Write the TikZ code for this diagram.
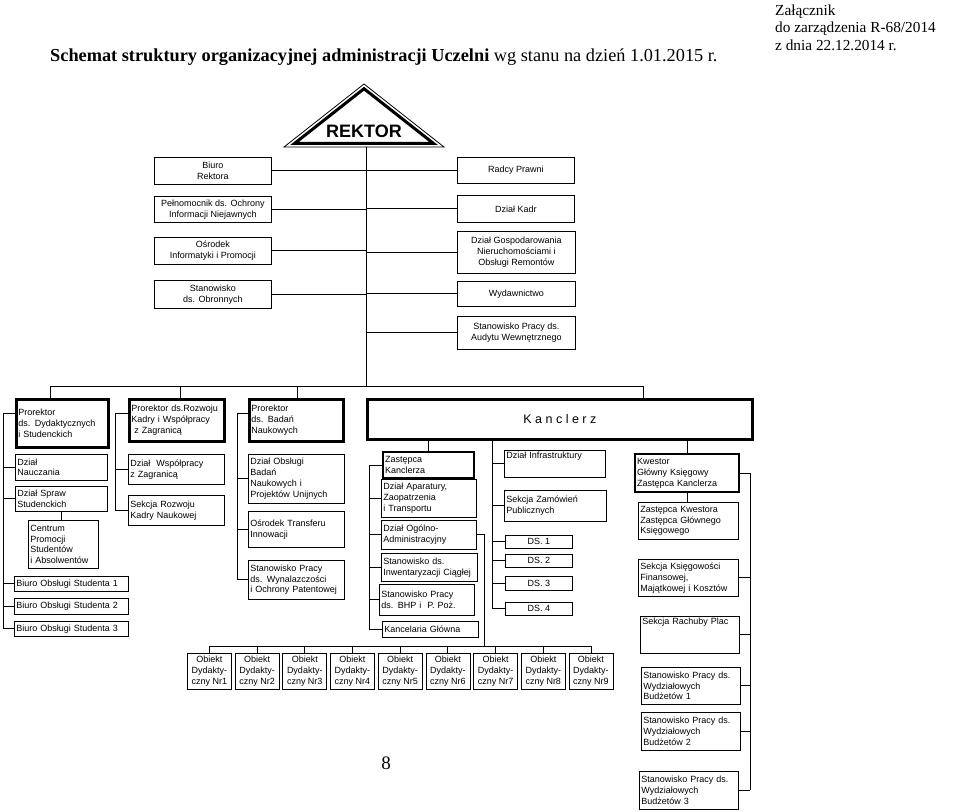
\documentclass[tikz,border=0pt]{standalone}
\usepackage{fontspec}
\setmainfont{Liberation Serif}
\setsansfont{Liberation Sans}
\usetikzlibrary{positioning,calc}

\begin{document}
\begin{tikzpicture}[x=1pt,y=-1pt,
unit/.style={draw, line width=0.7pt, font=\sffamily\fontsize{9}{10.8}\selectfont, inner sep=2pt, anchor=north west},
lbox/.style 2 args={unit, align=left, text width=#1, minimum height=#2},
cbox/.style 2 args={unit, align=center, minimum width=#1, minimum height=#2},
head/.style={line width=2.8pt},
subhead/.style={line width=2.2pt},
link/.style={line width=0.8pt},
]
\fill[white] (0,0) rectangle (960,811);
\useasboundingbox (0,0) rectangle (960,811);

% naglowek
\node[anchor=base west, inner sep=0, font=\fontsize{18.3}{20}\selectfont] (title) at (50,61)
  {\textbf{Schemat struktury organizacyjnej administracji Uczelni} wg stanu na dzień 1.01.2015 r.};
\node[anchor=north west, inner sep=0, align=left, font=\fontsize{15.3}{17.5}\selectfont] (zal) at (775,4.5)
  {Załącznik\\do zarządzenia R-68/2014\\z dnia 22.12.2014 r.};
\node[font=\fontsize{19}{20}\selectfont] (page) at (386,763) {8};

% rektor
\coordinate (tA) at (364,84);
\coordinate (tB) at (284,147);
\coordinate (tC) at (444,147);
\draw[line width=0.8pt] (tA) -- (tB) -- (tC) -- cycle;
\draw[line width=3pt] (364,88.7) -- (294.7,143.3) -- (433.3,143.3) -- cycle;
\node[font=\sffamily\bfseries\fontsize{18}{20}\selectfont] (rektor) at (364,131) {REKTOR};
\coordinate (rekbase) at (366,147);
\coordinate (bus) at (0,386);
\draw[link] (rekbase) -- (rekbase |- bus);

\node[cbox={117pt}{27pt}] (biuro) at (154,157) {Biuro\\Rektora};
\node[cbox={117pt}{26pt}] (pelnom) at (154,196) {Pełnomocnik ds. Ochrony\\Informacji Niejawnych};
\node[cbox={117pt}{27pt}] (osrodek) at (154,237) {Ośrodek\\Informatyki i Promocji};
\node[cbox={117pt}{28pt}] (obron) at (154,280) {Stanowisko\\ds. Obronnych};

\node[cbox={117pt}{26pt}] (radcy) at (457,157) {Radcy Prawni};
\node[cbox={117pt}{27pt}] (kadr) at (457,195) {Dział Kadr};
\node[cbox={118pt}{42pt}] (gosp) at (457,231) {Dział Gospodarowania\\Nieruchomościami i\\Obsługi Remontów};
\node[cbox={118pt}{25pt}] (wyd) at (457,281) {Wydawnictwo};
\node[cbox={118pt}{33pt}] (audyt) at (457,316) {Stanowisko Pracy ds.\\Audytu Wewnętrznego};

\foreach \n in {biuro,pelnom,osrodek,obron}
  \draw[link] (\n.east) -- (\n.east -| rekbase);
\foreach \n in {radcy,kadr,gosp,wyd,audyt}
  \draw[link] (\n.west) -- (\n.west -| rekbase);

% prorektorzy i kanclerz
\node[lbox={88pt}{48pt}, head] (pr1) at (15,398) {Prorektor\\ds. Dydaktycznych\\i Studenckich};
\node[lbox={91pt}{42pt}, head] (pr2) at (128,398) {Prorektor ds.Rozwoju\\Kadry i Współpracy\\\hspace*{3pt}z Zagranicą};
\node[lbox={90pt}{42pt}, head] (pr3) at (248,398) {Prorektor\\ds. Badań\\Naukowych};
\node[cbox={385pt}{40pt}, head, font=\sffamily\fontsize{12.5}{14}\selectfont] (kancl) at (366,398) {K a n c l e r z};

\coordinate (d1) at (50,386);
\coordinate (d2) at (180,386);
\coordinate (d3) at (297,386);
\coordinate (d4) at (643,386);
\draw[link] (d1) -- (d4);
\foreach \p/\d in {pr1/d1,pr2/d2,pr3/d3,kancl/d4}
  \draw[link] (\d) -- (\d |- \p.north);

% pion dydaktyczny
\node[lbox={88pt}{26pt}] (nauczania) at (15,454) {Dział\\Nauczania};
\node[lbox={88pt}{25pt}] (spraw) at (15,486) {Dział Spraw\\Studenckich};
\node[lbox={66pt}{48pt}] (centrum) at (28,520) {Centrum\\Promocji\\Studentów\\i Absolwentów};
\node[lbox={110pt}{15pt}] (bos1) at (14,576) {Biuro Obsługi Studenta 1};
\node[lbox={110pt}{16pt}] (bos2) at (14,598) {Biuro Obsługi Studenta 2};
\node[lbox={110pt}{15pt}] (bos3) at (14,621) {Biuro Obsługi Studenta 3};
\coordinate (c1) at (3,0);
\draw[link] ([yshift=-15pt]pr1.north west) -| (c1 |- bos3.west) -- (bos3.west);
\foreach \n in {nauczania,spraw,bos1,bos2}
  \draw[link] (\n.west) -- (\n.west -| c1);
\draw[link] (spraw.south) -- (spraw.south |- centrum.north);

% pion rozwoju kadry
\node[lbox={92pt}{30pt}] (wspol) at (128,454) {Dział\ \ Współpracy\\z Zagranicą};
\node[lbox={92pt}{30pt}] (rozwoj) at (128,495) {Sekcja Rozwoju\\Kadry Naukowej};
\coordinate (c2) at (115,0);
\draw[link] ([yshift=-15pt]pr2.north west) -| (c2 |- rozwoj.west) -- (rozwoj.west);
\draw[link] (wspol.west) -- (wspol.west -| c2);

% pion badan
\node[lbox={92pt}{49pt}] (badan) at (248,454) {Dział Obsługi\\Badań\\Naukowych i\\Projektów Unijnych};
\node[lbox={92pt}{36pt}] (transfer) at (248,511) {Ośrodek Transferu\\Innowacji};
\node[lbox={92pt}{39pt}] (wynal) at (248,560) {Stanowisko Pracy\\ds. Wynalazczości\\i Ochrony Patentowej};
\coordinate (c3) at (237,0);
\draw[link] ([yshift=-15pt]pr3.north west) -| (c3 |- wynal.west) -- (wynal.west);
\foreach \n in {badan,transfer}
  \draw[link] (\n.west) -- (\n.west -| c3);

% pion kanclerza
\node[lbox={87pt}{26pt}, subhead] (zkancl) at (382,451) {Zastępca\\Kanclerza};
\node[lbox={91pt}{38pt}] (apar) at (381,479) {Dział Aparatury,\\Zaopatrzenia\\i Transportu};
\node[lbox={91pt}{29pt}] (ogoln) at (381,520) {Dział Ogólno-\\Administracyjny};
\node[lbox={92pt}{28pt}] (inwent) at (381,553) {Stanowisko ds.\\Inwentaryzacji Ciągłej};
\node[lbox={91pt}{31pt}] (bhp) at (379,584) {Stanowisko Pracy\\ds. BHP i\ \ P. Poż.};
\node[lbox={92pt}{16pt}] (kancel) at (382,621) {Kancelaria Główna};
\coordinate (cA) at (369,0);
\draw[link] (zkancl.north) -- (zkancl.north |- kancl.south);
\draw[link] (cA |- zkancl.west) -- (cA |- kancel.west);
\foreach \n in {zkancl,apar,ogoln,inwent,bhp,kancel}
  \draw[link] (\n.west) -- (\n.west -| cA);

\node[lbox={97pt}{27pt}, text depth=16.4pt] (infra) at (504,450) {Dział Infrastruktury};
\node[lbox={98pt}{31pt}] (zamow) at (504,490) {Sekcja Zamówień\\Publicznych};
\node[cbox={67pt}{13pt}] (ds1) at (505,535) {DS. 1};
\node[cbox={67pt}{13pt}] (ds2) at (505,554) {DS. 2};
\node[cbox={67pt}{14pt}] (ds3) at (505,576) {DS. 3};
\node[cbox={67pt}{13pt}] (ds4) at (505,602) {DS. 4};
\coordinate (cB) at (492,0);
\draw[link] (cB |- kancl.south) -- (cB |- ds4.west);
\foreach \n in {infra,zamow,ds1,ds2,ds3,ds4}
  \draw[link] (\n.west) -- (\n.west -| cB);

\node[lbox={100pt}{38pt}, subhead] (kwestor) at (634,453) {Kwestor\\Główny Księgowy\\Zastępca Kanclerza};
\node[lbox={96pt}{37pt}] (zkwest) at (638,502) {Zastępca Kwestora\\Zastępca Głównego\\Księgowego};
\node[lbox={96pt}{37pt}] (ksieg) at (638,559) {Sekcja Księgowości\\Finansowej,\\Majątkowej i Kosztów};
\node[lbox={95pt}{37pt}, text depth=26.4pt] (rachuby) at (640,616) {Sekcja Rachuby Plac};
\node[lbox={95pt}{37pt}] (bud1) at (641,667) {Stanowisko Pracy ds.\\Wydziałowych\\Budżetów 1};
\node[lbox={95pt}{38pt}] (bud2) at (641,712) {Stanowisko Pracy ds.\\Wydziałowych\\Budżetów 2};
\node[lbox={95pt}{38pt}] (bud3) at (639,771) {Stanowisko Pracy ds.\\Wydziałowych\\Budżetów 3};
\coordinate (cC) at (750,0);
\draw[link] (kwestor.north) -- (kwestor.north |- kancl.south);
\draw[link] (kwestor.south) -- (zkwest.north -| kwestor.south);
\draw[link] (cC |- kwestor.east) -- (cC |- bud3.east);
\foreach \n in {kwestor,ksieg,rachuby,bud1,bud2,bud3}
  \draw[link] (\n.east) -- (\n.east -| cC);

% obiekty dydaktyczne
\foreach \i in {1,...,9}
  \node[cbox={44pt}{36pt}] (obj\i) at ({187+(\i-1)*47.7},653) {Obiekt\\Dydakty-\\czny Nr\i};
\coordinate (ob) at (484,646);
\draw[link] (ogoln.east) -| (ob);
\draw[link] (obj1.north |- ob) -- (obj9.north |- ob);
\foreach \i in {1,...,9}
  \draw[link] (obj\i.north) -- (obj\i.north |- ob);

\end{tikzpicture}
\end{document}
